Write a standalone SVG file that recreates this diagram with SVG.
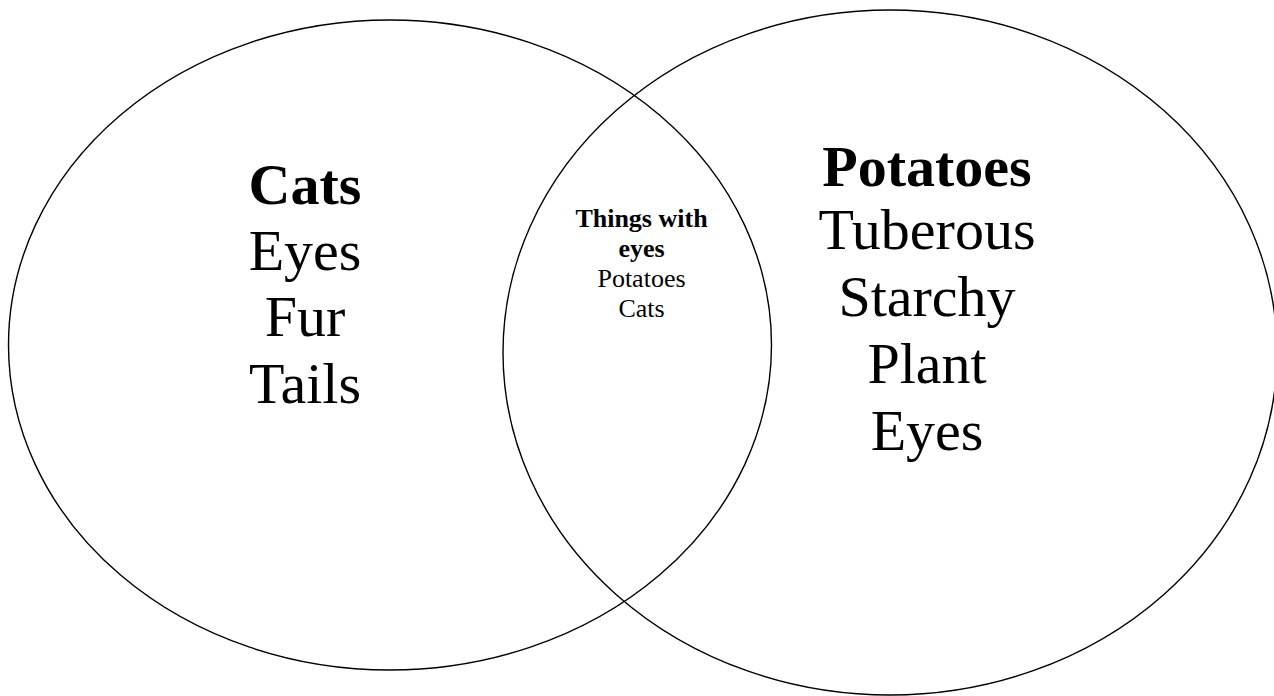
<svg xmlns="http://www.w3.org/2000/svg" width="1274" height="696" viewBox="0 0 1274 696">
<style>
.set{fill:none;stroke:#000;stroke-width:1.4}
text{font-family:"Liberation Serif","Times New Roman",serif;fill:#000;text-anchor:middle}
.big{font-size:58px}
.small{font-size:26px}
.b{font-weight:bold}
</style>
<rect width="1274" height="696" fill="#fff"/>
<g id="cats">
<ellipse class="set" cx="390" cy="345" rx="381.5" ry="325"/>
<text class="big b" x="305" y="204">Cats</text>
<text class="big" x="305" y="270">Eyes</text>
<text class="big" x="305" y="336">Fur</text>
<text class="big" x="305" y="403">Tails</text>
</g>
<g id="potatoes">
<ellipse class="set" cx="890" cy="352.5" rx="387" ry="342.5"/>
<text class="big b" x="927" y="185.5">Potatoes</text>
<text class="big" x="927" y="249">Tuberous</text>
<text class="big" x="927" y="316">Starchy</text>
<text class="big" x="927" y="383">Plant</text>
<text class="big" x="927" y="450">Eyes</text>
</g>
<g id="overlap">
<text class="small b" x="641.5" y="227">Things with</text>
<text class="small b" x="641.5" y="257">eyes</text>
<text class="small" x="641.5" y="287">Potatoes</text>
<text class="small" x="641.5" y="317">Cats</text>
</g>
</svg>
